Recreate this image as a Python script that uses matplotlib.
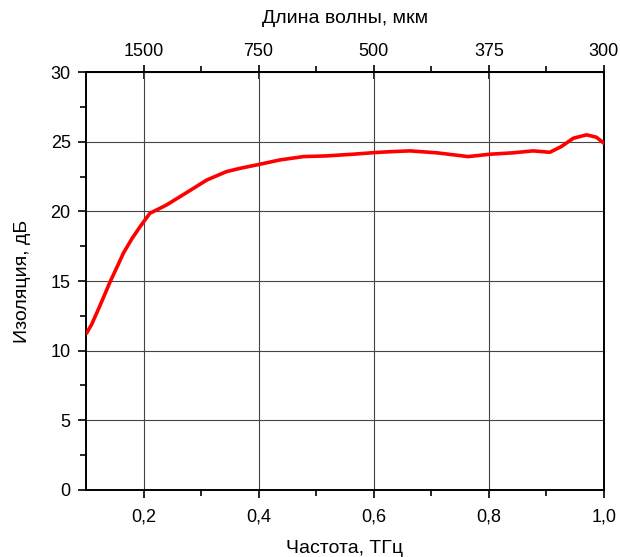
import matplotlib.pyplot as plt
from matplotlib.ticker import MultipleLocator, FixedLocator

plt.rcParams['font.family'] = ['Liberation Sans', 'DejaVu Sans']

# data
freq = [0.101, 0.11, 0.125, 0.142, 0.155, 0.165, 0.18, 0.194, 0.211, 0.24, 0.275, 0.31,
        0.344, 0.368, 0.401, 0.437, 0.478, 0.518, 0.564, 0.599, 0.628, 0.663, 0.71,
        0.764, 0.802, 0.842, 0.877, 0.906, 0.926, 0.947, 0.97, 0.987, 1.0]
isol = [11.25, 11.9, 13.3, 14.95, 16.1, 17.0, 18.05, 18.9, 19.86, 20.46, 21.35, 22.25,
        22.85, 23.09, 23.37, 23.69, 23.93, 23.98, 24.1, 24.21, 24.28, 24.34, 24.2,
        23.93, 24.1, 24.2, 24.34, 24.24, 24.65, 25.25, 25.49, 25.32, 24.89]

x_ticks = [0.2, 0.4, 0.6, 0.8, 1.0]
x_labels = ['0,2', '0,4', '0,6', '0,8', '1,0']
wl_labels = ['1500', '750', '500', '375', '300']
y_ticks = [0, 5, 10, 15, 20, 25, 30]

fig = plt.figure(figsize=(6.2, 5.57), dpi=100)
ax = fig.add_axes([0.1387, 0.1203, 0.974 - 0.1387, 0.8707 - 0.1203])

ax.plot(freq, isol, color='#ff0000', lw=2.6, solid_capstyle='round',
        solid_joinstyle='round', zorder=3)

ax.set_xlim(0.1, 1.0)
ax.set_ylim(0, 30)
ax.set_xticks(x_ticks)
ax.set_xticklabels(x_labels)
ax.xaxis.set_minor_locator(FixedLocator([0.3, 0.5, 0.7, 0.9]))
ax.set_yticks(y_ticks)
ax.yaxis.set_minor_locator(MultipleLocator(2.5))
ax.grid(True, which='major', color='#444444', lw=0.8)

ax.tick_params(which='major', direction='out', length=6, width=1.2, labelsize=13, colors='black')
ax.tick_params(which='minor', direction='out', length=4, width=1.2)
ax.tick_params(axis='x', pad=7)
ax.tick_params(axis='y', pad=5)

for s in ax.spines.values():
    s.set_linewidth(1.4)

ax.set_xlabel('Частота, ТГц', fontsize=14, labelpad=11)
ax.set_ylabel('Изоляция, дБ', fontsize=14, labelpad=14)

top = ax.secondary_xaxis('top')
top.set_xticks(x_ticks)
top.set_xticklabels(wl_labels)
top.xaxis.set_minor_locator(FixedLocator([0.3, 0.5, 0.7, 0.9]))
top.tick_params(which='major', direction='inout', length=10, width=1.2, labelsize=13, pad=4)
top.tick_params(which='minor', direction='out', length=4, width=1.2)
top.spines['top'].set_linewidth(1.4)
top.set_xlabel('Длина волны, мкм', fontsize=14, labelpad=14)

fig.savefig('out.png', dpi=100)
